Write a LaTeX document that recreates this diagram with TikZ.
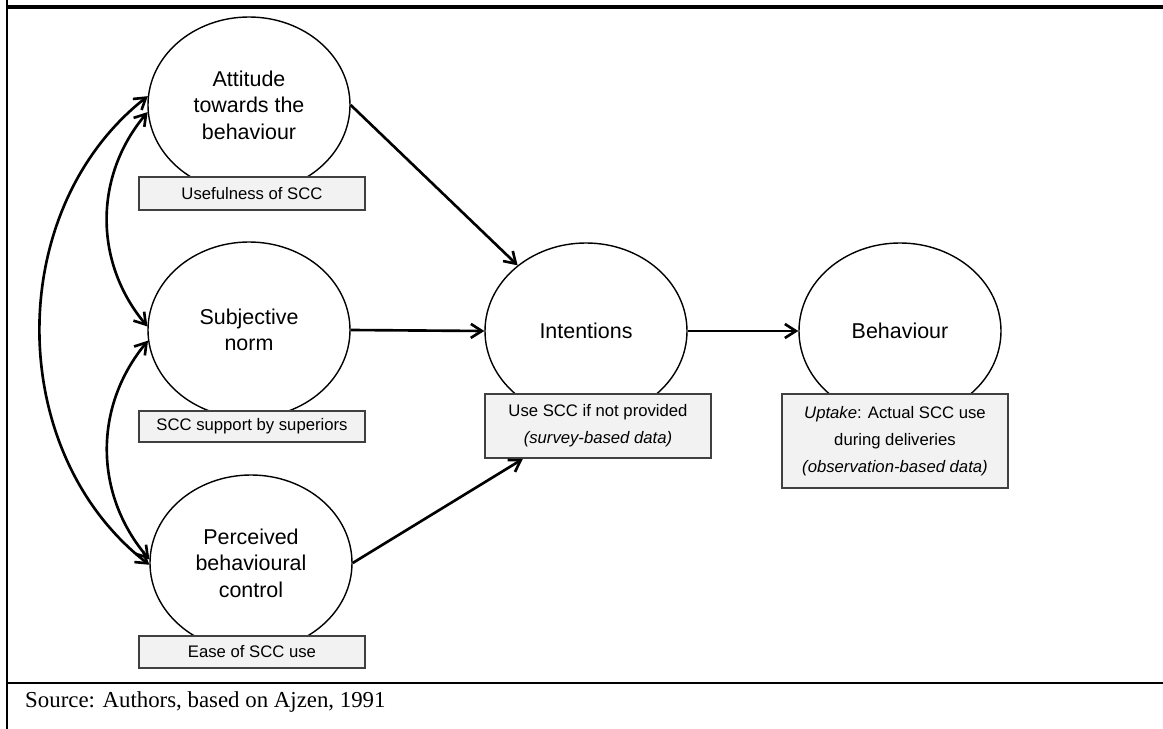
\documentclass[tikz,border=0pt]{standalone}
\usepackage{fontspec}
\setmainfont{Liberation Serif}
\setsansfont{Liberation Sans}
\usetikzlibrary{arrows.meta}
\usetikzlibrary{calc}
\usetikzlibrary{shapes.geometric}
\tikzset{>={Straight Barb[length=2.2mm,width=2.8mm]}}
\definecolor{boxFill}{gray}{0.95}
\definecolor{boxLine}{gray}{0.25}
\tikzset{construct/.style={draw,ellipse,line width=0.8pt,minimum width=4.04cm,minimum height=3.52cm,inner sep=0pt,align=center,font=\sffamily\fontsize{12.2}{15}\selectfont}}
\tikzset{measure/.style={draw=boxLine,fill=boxFill,line width=1.1pt,minimum width=4.52cm,inner sep=0pt,align=center,font=\sffamily\fontsize{9.5}{15.5}\selectfont}}

\begin{document}
\begin{tikzpicture}
\useasboundingbox (0,0) rectangle (23.26,-14.58);

\draw [line width=1.6pt] (0.14,0) -- (0.14,-14.58);
\draw [line width=2pt] (0.14,-0.14) -- (23.26,-0.14);
\draw [line width=1.6pt] (0.14,-13.66) -- (23.26,-13.66);

\node (att) at (4.98,-2.10) [construct] {Attitude\\towards the\\behaviour};
\node (sub) at (4.98,-6.60) [construct] {Subjective\\norm};
\node (pbc) at (5.02,-11.26) [construct] {Perceived\\behavioural\\control};
\node (int) at (11.72,-6.62) [construct] {Intentions};
\node (beh) at (18.00,-6.62) [construct] {Behaviour};

\node (attbox) at (5.04,-3.87) [measure,minimum height=0.66cm] {Usefulness of SCC};
\node (subbox) at (5.04,-8.53) [measure,minimum height=0.62cm] {SCC support by superiors};
\node (pbcbox) at (5.04,-13.04) [measure,minimum height=0.64cm] {Ease of SCC use};
\node (intbox) at (11.96,-8.52) [measure,minimum height=1.28cm] {Use SCC if not provided\\\textit{(survey-based data)}};
\node (behbox) at (17.90,-8.82) [measure,minimum height=1.88cm] {\textit{Uptake}: Actual SCC use\\during deliveries\\\textit{(observation-based data)}};

\draw [->,line width=1.5pt] (att.east) -- (int);
\draw [->,line width=1.5pt] (sub.east) -- (int.west);
\draw [->,line width=1.5pt] (pbc.east) -- ($(intbox.south west)!0.17!(intbox.south east)$);
\draw [->,line width=1.5pt] (int.east) -- (beh.west);

\draw [<->,line width=1.5pt] (att.175) to [bend right=52] (pbc.181);
\draw [<->,line width=1.5pt] (att.184) to [bend right=40] (sub.178);
\draw [<->,line width=1.5pt] (sub.186) to [bend right=40] (pbc.178);

\node (src) at (0.38,-14.14) [anchor=base west,font=\fontsize{13}{15}\selectfont] {Source: Authors, based on Ajzen, 1991};

\end{tikzpicture}
\end{document}
